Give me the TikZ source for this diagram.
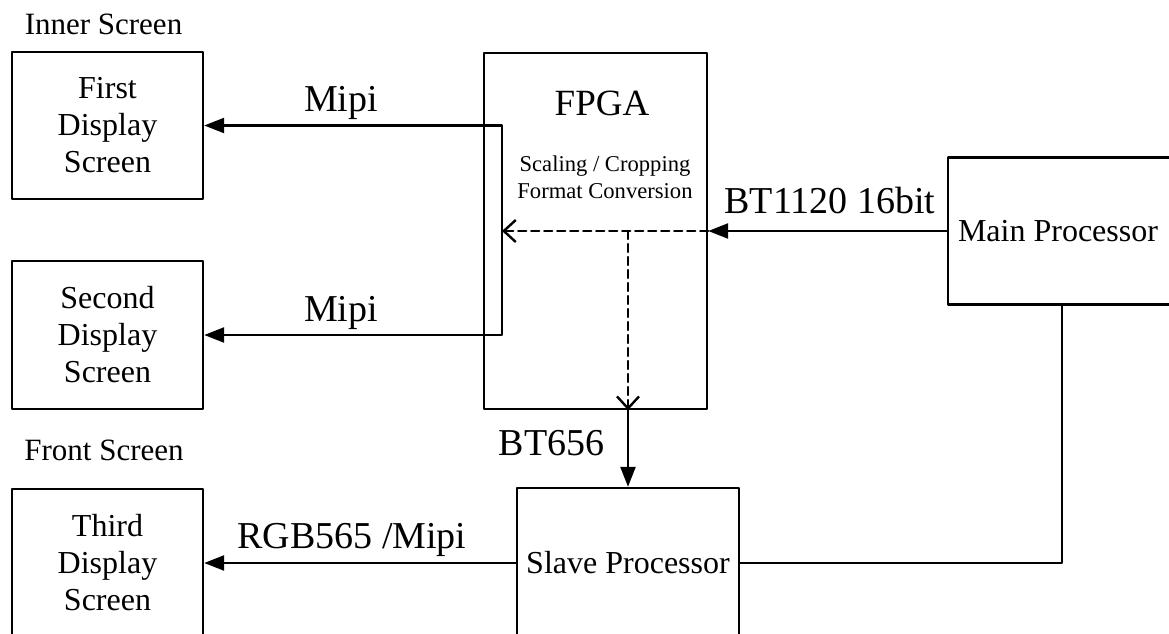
\documentclass[tikz,border=0pt]{standalone}
\usepackage{fontspec}
\setmainfont{Liberation Serif}
\usetikzlibrary{arrows.meta}

\begin{document}
\begin{tikzpicture}[line cap=round,line join=round,>={Triangle[length=10pt,width=7.5pt]},x=0.5pt,y=-0.5pt,line width=1.2pt,
    box/.style={draw,inner sep=0pt,align=center,font=\fontsize{16}{18.5}\selectfont},
    chan/.style={font=\fontsize{19}{22}\selectfont,anchor=base,inner sep=0pt},
    grp/.style={font=\fontsize{15.5}{18}\selectfont,anchor=base,inner sep=0pt},
    flow/.style={dash pattern=on 4pt off 2.5pt,-{Straight Barb[length=6pt,width=11pt]}}]
      \useasboundingbox (0,0) rectangle (1169,633);
      \clip (0,0) rectangle (1169,633);

      % screens
      \node[grp] (inner) at (103.5,34) {Inner Screen};
      \node[box,minimum width=95.5pt,minimum height=73.5pt] (first) at (107.5,125.5) {First\\Display\\Screen};
      \node[box,minimum width=95.5pt,minimum height=74pt] (second) at (107.5,335) {Second\\Display\\Screen};
      \node[grp] (front) at (104,460) {Front Screen};
      \node[box,minimum width=95.5pt,minimum height=74pt] (third) at (107.5,563) {Third\\Display\\Screen};

      % fpga
      \node[draw,minimum width=111.5pt,minimum height=178pt] (fpga) at (595.5,231) {};
      \node[anchor=base,inner sep=0pt,font=\fontsize{18.5}{22}\selectfont] (fpganame) at (602,115) {FPGA};
      \node[align=center,inner sep=0pt,font=\fontsize{11.3}{13.5}\selectfont] (fpganote) at (605,177) {Scaling / Cropping\\Format Conversion};

      % processors
      \node[box,minimum width=114pt,minimum height=73.5pt] (main) at (1062,231) {Main Processor\hspace*{4pt}};
      \node[box,minimum width=111pt,minimum height=75pt] (slave) at (628,563) {Slave Processor};

      \coordinate (bu) at (502,125.5);
      \coordinate (bd) at (502,335);
      \coordinate (bm) at (502,231);
      \coordinate (split) at (628,231);

      \draw[<->] (first.east) -- (bu) -- (bd) -- (second.east);
      \draw[->] (main.west) -- (fpga.east);
      \draw[flow] (fpga.east) -- (bm);
      \draw[flow] (split) -- (split |- fpga.south);
      \draw[->] (split |- fpga.south) -- (slave.north);
      \draw[->] (slave.west) -- (third.east);
      \draw (main.south) -- (main.south |- slave.east) -- (slave.east);

      % channel labels
      \node[chan] (mipiA) at (341,111) {Mipi};
      \node[chan] (mipiB) at (341,321) {Mipi};
      \node[chan] (bt1120) at (830,213) {BT1120 16bit};
      \node[chan] (bt656) at (551.5,455) {BT656};
      \node[chan] (rgb) at (352,548) {RGB565 /Mipi};
    \end{tikzpicture}
\end{document}
